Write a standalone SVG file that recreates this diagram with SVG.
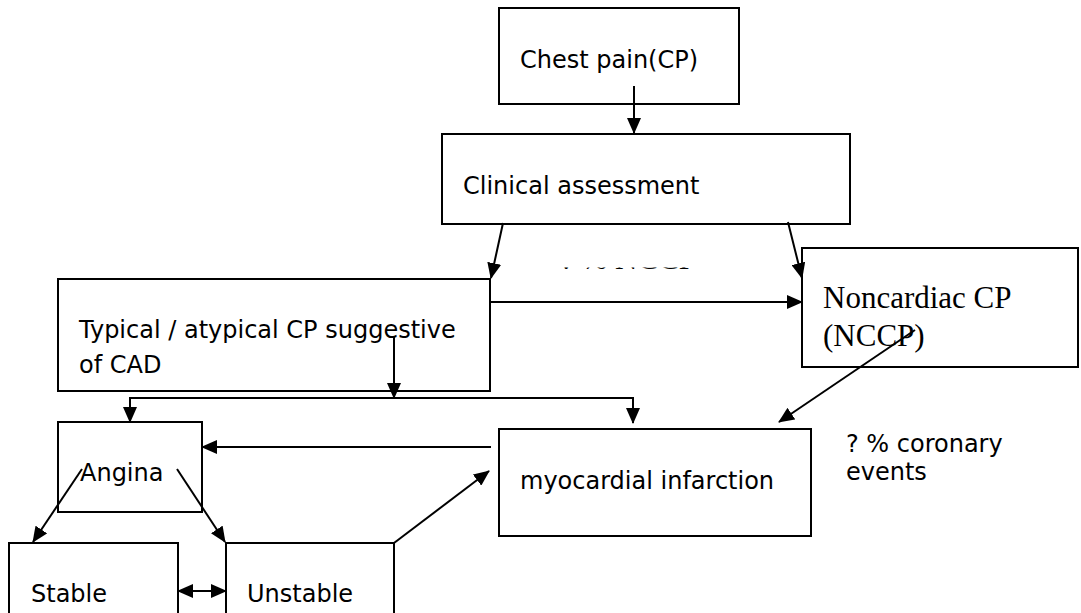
<svg xmlns="http://www.w3.org/2000/svg" width="1081" height="613" viewBox="0 0 1081 613">
<style>
.box{fill:#fff;stroke:#000;stroke-width:2}
.t{font-family:"DejaVu Sans",Verdana,sans-serif;font-size:24px;fill:#000}
.s{font-family:"Liberation Serif","Times New Roman",serif;font-size:31px;fill:#000}
.c{fill:none;stroke:#000;stroke-width:2}
</style>
<defs>
<marker id="ah" markerWidth="16" markerHeight="14" refX="15" refY="7" orient="auto" markerUnits="userSpaceOnUse">
<path d="M0,0 L16,7 L0,14 Z" fill="#000"/>
</marker>
<marker id="as" markerWidth="16" markerHeight="14" refX="1" refY="7" orient="auto" markerUnits="userSpaceOnUse">
<path d="M16,0 L0,7 L16,14 Z" fill="#000"/>
</marker>
<clipPath id="clipfrag" clipPathUnits="userSpaceOnUse"><rect x="540" y="267.5" width="180" height="1.5"/></clipPath>
</defs>
<rect width="1081" height="613" fill="#fff"/>
<g id="chest"><rect class="box" x="499" y="8" width="240" height="96"/><text class="t" x="520" y="68">Chest pain(CP)</text></g>
<g id="clinical"><rect class="box" x="442" y="134" width="408" height="90"/><text class="t" x="463" y="194">Clinical assessment</text></g>
<g id="fragment" clip-path="url(#clipfrag)"><text class="s" x="560" y="269">? % NCCP</text></g>
<g id="typical"><rect class="box" x="58" y="279" width="432" height="112"/><text class="t" x="79" y="338">Typical / atypical CP suggestive</text><text class="t" x="79" y="373">of CAD</text></g>
<g id="noncardiac"><rect class="box" x="802" y="248" width="276" height="119"/><text class="s" x="823" y="308">Noncardiac CP</text><text class="s" x="823" y="346">(NCCP)</text></g>
<g id="angina"><rect class="box" x="58" y="422" width="144" height="90"/><text class="t" x="80" y="481">Angina</text></g>
<g id="mi"><rect class="box" x="499" y="429" width="312" height="107"/><text class="t" x="520" y="489">myocardial infarction</text></g>
<g id="coronary"><text class="t" x="846" y="452">? % coronary</text><text class="t" x="846" y="480">events</text></g>
<g id="stable"><rect class="box" x="9" y="543" width="169" height="80"/><text class="t" x="31" y="602">Stable</text></g>
<g id="unstable"><rect class="box" x="226" y="543" width="168" height="80"/><text class="t" x="247" y="602">Unstable</text></g>
<g id="connectors">
<line class="c" x1="634" y1="86" x2="634" y2="133" marker-end="url(#ah)"/>
<line class="c" x1="503" y1="223" x2="491" y2="278" marker-end="url(#ah)"/>
<line class="c" x1="788" y1="222" x2="802" y2="278" marker-end="url(#ah)"/>
<line class="c" x1="490" y1="302" x2="802" y2="302" marker-end="url(#ah)"/>
<line class="c" x1="394" y1="336" x2="394" y2="398" marker-end="url(#ah)"/>
<polyline class="c" points="130,422 130,398 633,398 633,423" marker-start="url(#as)" marker-end="url(#ah)"/>
<line class="c" x1="915" y1="330" x2="779" y2="422" marker-end="url(#ah)"/>
<line class="c" x1="491" y1="447" x2="202" y2="447" marker-end="url(#ah)"/>
<line class="c" x1="82" y1="469" x2="33" y2="542" marker-end="url(#ah)"/>
<line class="c" x1="177" y1="469" x2="225" y2="542" marker-end="url(#ah)"/>
<line class="c" x1="178" y1="591" x2="226" y2="591" marker-start="url(#as)" marker-end="url(#ah)"/>
<line class="c" x1="394" y1="543" x2="489" y2="471" marker-end="url(#ah)"/>
</g>
</svg>
